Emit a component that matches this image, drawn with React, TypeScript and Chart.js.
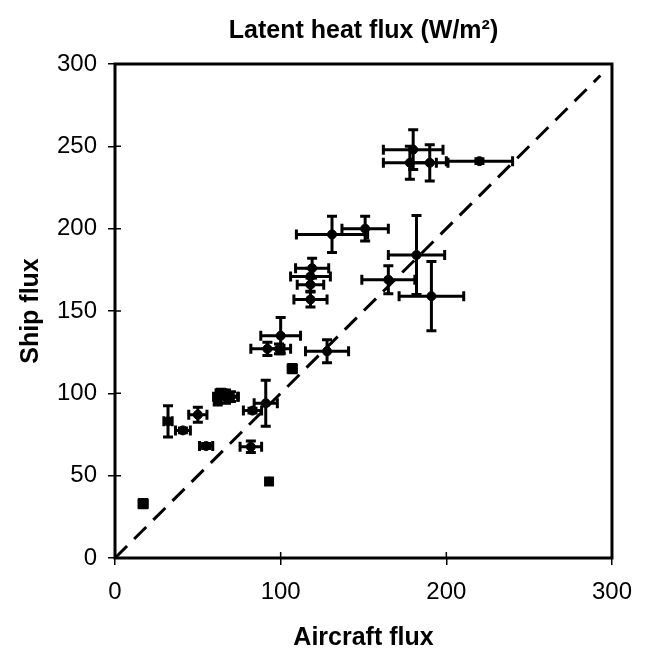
import React, { useEffect, useRef } from "react";
import { Chart, registerables } from "chart.js";

Chart.register(...registerables);

// Aircraft (x) vs ship (y) latent heat flux, W/m^2
const aircraftFlux = [17, 32, 41, 50, 55, 62, 64, 67, 70, 82, 83, 91, 93, 92, 99, 100, 107, 128, 118, 118, 118, 119, 131, 151, 165, 182, 191, 180, 178, 190, 220];
const shipFlux = [33, 83, 77.5, 87, 68, 95, 100, 98, 98, 67.5, 89.5, 94, 46.5, 127, 127, 135, 115, 125.5, 157, 166, 171, 176, 196.5, 200, 169, 184, 159, 248, 240, 240, 241];
const aircraftErr = [2.5, 2.5, 4.5, 5.5, 4, 2, 3, 7.5, 4, 6.5, 5.5, 7, 2, 10, 7, 12, 2.5, 13, 10, 8, 12, 10, 21.5, 14, 16, 17, 19.5, 18, 16, 11, 20];
const shipErr = [2.5, 9.5, 1.5, 4.5, 1.5, 2, 2.5, 4, 3, 3.5, 1.5, 14, 2, 4, 3, 11, 2.5, 7, 4.5, 4, 5, 6, 11, 7.5, 8.5, 24, 21, 12, 10, 11, 1.5];

const oneToOneLine = [0, 293];
const xTickValues = [0, 100, 200, 300];
const yTickValues = [0, 50, 100, 150, 200, 250, 300];

const titleText = "Latent heat flux (W/m\u00B2)";
const xTitle = "Aircraft flux";
const yTitle = "Ship flux";

const FONT = "'Liberation Sans', Arial, Helvetica, sans-serif";

const errorBarsPlugin = {
  id: "errorBars",
  afterDatasetsDraw(chart: any) {
    const { ctx, scales } = chart;
    const xs = scales.x;
    const ys = scales.y;
    const cap = 5;
    ctx.save();
    ctx.strokeStyle = "#000";
    ctx.lineWidth = 3;
    ctx.lineCap = "butt";
    for (let i = 0; i < aircraftFlux.length; i++) {
      const px = xs.getPixelForValue(aircraftFlux[i]);
      const py = ys.getPixelForValue(shipFlux[i]);
      const xl = xs.getPixelForValue(aircraftFlux[i] - aircraftErr[i]);
      const xr = xs.getPixelForValue(aircraftFlux[i] + aircraftErr[i]);
      const yt = ys.getPixelForValue(shipFlux[i] + shipErr[i]);
      const yb = ys.getPixelForValue(shipFlux[i] - shipErr[i]);
      ctx.beginPath();
      ctx.moveTo(xl, py);
      ctx.lineTo(xr, py);
      ctx.moveTo(xl, py - cap);
      ctx.lineTo(xl, py + cap);
      ctx.moveTo(xr, py - cap);
      ctx.lineTo(xr, py + cap);
      ctx.moveTo(px, yt);
      ctx.lineTo(px, yb);
      ctx.moveTo(px - cap, yt);
      ctx.lineTo(px + cap, yt);
      ctx.moveTo(px - cap, yb);
      ctx.lineTo(px + cap, yb);
      ctx.stroke();
    }
    ctx.restore();
  },
};

const framePlugin = {
  id: "frame",
  afterDraw(chart: any) {
    const { ctx, chartArea, scales } = chart;
    const { left, top, right, bottom } = chartArea;
    ctx.save();
    ctx.strokeStyle = "#000";
    ctx.lineWidth = 3;
    ctx.strokeRect(left, top, right - left, bottom - top);
    ctx.lineWidth = 1.5;
    ctx.beginPath();
    for (const v of yTickValues) {
      const py = scales.y.getPixelForValue(v);
      ctx.moveTo(left, py);
      ctx.lineTo(left + 6, py);
    }
    for (const v of xTickValues) {
      const px = scales.x.getPixelForValue(v);
      ctx.moveTo(px, bottom);
      ctx.lineTo(px, bottom - 6);
    }
    ctx.stroke();
    ctx.restore();
  },
};

export default function App() {
  const canvasRef = useRef<HTMLCanvasElement | null>(null);

  useEffect(() => {
    const canvas = canvasRef.current;
    if (!canvas) return;
    const chart = new Chart(canvas, {
      type: "scatter",
      data: {
        datasets: [
          {
            type: "line",
            data: oneToOneLine.map((v) => ({ x: v, y: v })),
            borderColor: "#000",
            borderWidth: 3,
            borderDash: [17, 10],
            pointRadius: 0,
            fill: false,
          } as any,
          {
            data: aircraftFlux.map((v, i) => ({ x: v, y: shipFlux[i] })),
            backgroundColor: "#000",
            borderColor: "#000",
            pointRadius: 4.5,
            pointHoverRadius: 4.5,
          },
        ],
      },
      plugins: [errorBarsPlugin, framePlugin],
      options: {
        animation: false,
        responsive: false,
        events: [],
        layout: { padding: { left: 0, right: 23, top: 0, bottom: 0 } },
        plugins: {
          legend: { display: false },
          tooltip: { enabled: false },
          title: { display: false },
        },
        scales: {
          x: {
            type: "linear",
            position: "bottom",
            min: 0,
            max: 300,
            afterBuildTicks: (scale: any) => {
              scale.ticks = xTickValues.map((v) => ({ value: v }));
            },
            afterFit: (scale: any) => {
              scale.height = 95;
            },
            grid: { drawOnChartArea: false, tickLength: 7, color: "#000", lineWidth: 1.5 },
            border: { display: false },
            ticks: {
              color: "#000",
              padding: 13,
              maxRotation: 0,
              font: { family: FONT, size: 24 },
            },
            title: {
              display: true,
              text: xTitle,
              color: "#000",
              padding: { top: 0, bottom: 0 },
              font: { family: FONT, size: 25, weight: "bold" },
            },
          },
          x2: {
            type: "linear",
            position: "top",
            min: 0,
            max: 300,
            afterFit: (scale: any) => {
              scale.height = 64;
            },
            grid: { display: false },
            border: { display: false },
            ticks: { display: false },
            title: {
              display: true,
              text: titleText,
              color: "#000",
              padding: { top: 16, bottom: 0 },
              font: { family: FONT, size: 25, weight: "bold" },
            },
          },
          y: {
            type: "linear",
            position: "left",
            min: 0,
            max: 300,
            afterBuildTicks: (scale: any) => {
              scale.ticks = yTickValues.map((v) => ({ value: v }));
            },
            afterFit: (scale: any) => {
              scale.width = 115;
            },
            grid: { drawOnChartArea: false, tickLength: 7, color: "#000", lineWidth: 1.5 },
            border: { display: false },
            ticks: {
              color: "#000",
              padding: 11,
              font: { family: FONT, size: 24 },
            },
            title: {
              display: true,
              text: yTitle,
              color: "#000",
              padding: { top: 16, bottom: 0 },
              font: { family: FONT, size: 25, weight: "bold" },
            },
          },
        },
      } as any,
    });
    return () => chart.destroy();
  }, []);

  return (
    <div style={{ position: "fixed", left: 0, top: 0, width: 645, height: 653, background: "#fff" }}>
      <canvas ref={canvasRef} width={645} height={653} style={{ display: "block", width: 645, height: 653 }} />
    </div>
  );
}
